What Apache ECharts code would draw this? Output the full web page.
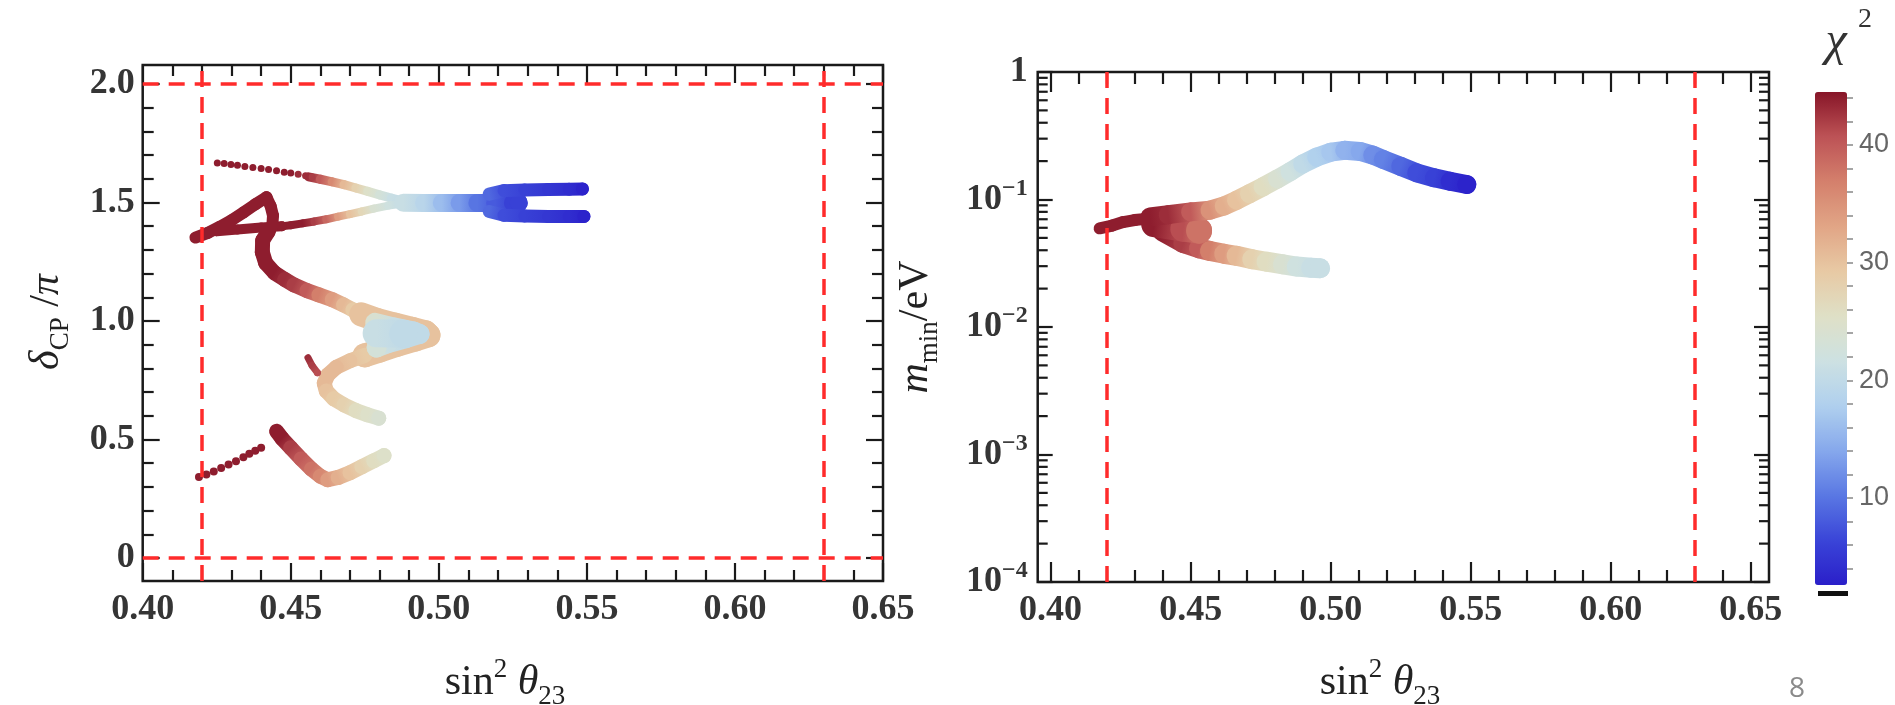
<!DOCTYPE html>
<html><head><meta charset="utf-8">
<script src="https://cdn.jsdelivr.net/npm/echarts@6/dist/echarts.min.js"></script>
<style>html,body{margin:0;padding:0;background:#fff}#c{width:1895px;height:705px}</style>
</head><body><div id="c"></div>
<script>
// ---------------- data ----------------
const CHI_MIN = 2.6, CHI_MAX = 44.5;
const chiPalette = ['#2a1fc9','#3a45d8','#5a78e3','#86a8ec','#b0d0ee','#cde1e2','#dfe0c6','#e8c9a4','#e1a586','#d4806c','#bd5356','#871528'];
const chiTickLabels = [10, 20, 30, 40];
const chiTickValues = [4,6,8,10,12,14,16,18,20,22,24,26,28,30,32,34,36,38,40,42,44];

const sinMajorTicks = [0.40, 0.45, 0.50, 0.55, 0.60, 0.65];
const deltaMajorTicks = [0, 0.5, 1.0, 1.5, 2.0];
const mMajorTicks = [1e-4, 1e-3, 1e-2, 1e-1, 1];
const mMinorTicks = [2e-4,3e-4,4e-4,5e-4,6e-4,7e-4,8e-4,9e-4,2e-3,3e-3,4e-3,5e-3,6e-3,7e-3,8e-3,9e-3,
  2e-2,3e-2,4e-2,5e-2,6e-2,7e-2,8e-2,9e-2,0.2,0.3,0.4,0.5,0.6,0.7,0.8,0.9];

const boundsSin = [0.418, 0.627];   // red dashed bounds
const boundsDelta = [0, 2];

const xRangeL = [0.40, 0.65], yRangeL = [-0.097, 2.08];
const xRangeR = [0.3954, 0.6565], yRangeR = [1e-4, 1];

// left panel: [sin^2 theta23, deltaCP/pi, chi^2]
const L_upperDots = [[0.4252,1.667,44],[0.4275,1.664,44],[0.4298,1.660,44],[0.4320,1.657,44],[0.4345,1.652,44],[0.4372,1.648,44],[0.4400,1.643,44],[0.4425,1.639,44],[0.4452,1.634,44],[0.4478,1.628,44],[0.4500,1.624,44],[0.4525,1.619,43],[0.4550,1.613,43],[0.4572,1.607,42]];
const L_upperBand = [[0.4560,1.608,43],[0.4600,1.598,40],[0.4640,1.587,36],[0.4680,1.575,31],[0.4720,1.561,28],[0.4760,1.547,25],[0.4800,1.532,23],[0.4840,1.518,21],[0.4880,1.506,20],[0.4920,1.500,19]];
const L_rightBranch = [[0.4460,1.398,44],[0.4500,1.404,44],[0.4540,1.412,44],[0.4580,1.420,42],[0.4620,1.429,39],[0.4660,1.440,34],[0.4700,1.451,30],[0.4740,1.462,27],[0.4780,1.474,24],[0.4830,1.487,22],[0.4880,1.496,20]];
const L_aLeft = [[0.4178,1.352,44],[0.4220,1.372,44],[0.4261,1.398,44],[0.4300,1.425,44],[0.4340,1.458,44],[0.4380,1.492,44],[0.4418,1.522,44]];
const L_aRight = [[0.4418,1.522,44],[0.4432,1.485,44],[0.4440,1.445,44],[0.4438,1.405,44],[0.4425,1.370,44]];
const L_aBase = [[0.4250,1.378,44],[0.4320,1.386,44],[0.4400,1.394,44],[0.4470,1.400,44]];
const L_sBand = [[0.4425,1.380,44],[0.4405,1.340,44],[0.4404,1.290,44],[0.4415,1.245,44],[0.4445,1.203,44],[0.4480,1.175,43],[0.4511,1.152,42],[0.4555,1.128,40],[0.4595,1.110,37],[0.4640,1.090,34],[0.4678,1.068,31],[0.4710,1.047,29],[0.4738,1.028,28]];
const L_blobOuter = [[0.4738,1.028,30],[0.4790,1.005,30],[0.4850,0.985,30],[0.4910,0.967,30],[0.4955,0.952,30],[0.4965,0.940,30],[0.4920,0.922,30],[0.4860,0.900,30],[0.4800,0.875,30],[0.4750,0.855,30]];
const L_lowerArm = [[0.4750,0.855,29],[0.4700,0.832,30],[0.4654,0.805,31],[0.4625,0.772,31],[0.4613,0.737,31],[0.4620,0.705,30],[0.4645,0.672,29],[0.4680,0.646,28],[0.4720,0.622,26],[0.4760,0.604,25],[0.4797,0.590,24]];
const L_blobCore = [[0.4785,0.992,24],[0.4850,0.972,21],[0.4915,0.955,20],[0.4935,0.945,20],[0.4890,0.928,20],[0.4825,0.905,21],[0.4790,0.888,23]];
const L_blobFill = [[0.4790,0.948,21],[0.4880,0.946,20]];
const L_stub = [[0.4558,0.845,43],[0.4572,0.812,42],[0.4590,0.782,41]];
const L_mainBand = [[0.4880,1.499,21],[0.4950,1.498,19],[0.5010,1.498,16],[0.5070,1.498,13],[0.5130,1.498,10],[0.5190,1.498,8],[0.5250,1.498,6],[0.5270,1.498,6]];
const L_upperProng = [[0.5170,1.535,9],[0.5220,1.550,7],[0.5290,1.553,6],[0.5370,1.555,5],[0.5440,1.556,4],[0.5485,1.557,3]];
const L_lowerProng = [[0.5170,1.462,9],[0.5220,1.446,7],[0.5290,1.443,6],[0.5370,1.441,5],[0.5440,1.441,4],[0.5490,1.441,3]];
const L_bottomDots = [[0.4190,0.342,44],[0.4215,0.352,44],[0.4240,0.365,44],[0.4265,0.380,44],[0.4290,0.395,44],[0.4315,0.408,44],[0.4340,0.425,44],[0.4360,0.440,44],[0.4380,0.452,44],[0.4400,0.465,44]];
const L_vBand = [[0.4452,0.535,44],[0.4470,0.505,44],[0.4500,0.465,42],[0.4535,0.418,40],[0.4570,0.375,38],[0.4600,0.345,36],[0.4625,0.330,34],[0.4660,0.340,32],[0.4700,0.360,30],[0.4740,0.385,28],[0.4780,0.410,26],[0.4815,0.432,25]];

// right panel: [sin^2 theta23, m_min (eV), chi^2]
const R_tail = [[0.4175,0.0594,44],[0.4220,0.0625,44],[0.4259,0.0665,44],[0.4300,0.0690,44],[0.4340,0.0705,44],[0.4380,0.0700,44]];
const R_lower = [[0.4400,0.0560,44],[0.4474,0.0455,42],[0.4530,0.0415,40],[0.4569,0.0395,37],[0.4620,0.0375,34],[0.4664,0.0362,31],[0.4720,0.0340,28],[0.4771,0.0325,26],[0.4830,0.0310,24],[0.4879,0.0298,22],[0.4930,0.0292,21],[0.4962,0.0289,21]];
const R_body = [[0.4370,0.0640,44],[0.4474,0.0590,41],[0.4530,0.0570,38]];
const R_upper = [[0.4355,0.0730,44],[0.4420,0.0760,43],[0.4500,0.0800,40],[0.4569,0.0824,35],[0.4620,0.0890,32],[0.4664,0.0986,30],[0.4710,0.1110,28],[0.4759,0.1260,26],[0.4810,0.1450,24],[0.4855,0.1650,22],[0.4900,0.1900,20],[0.4950,0.2150,18],[0.5000,0.2350,17],[0.5050,0.2430,15],[0.5105,0.2380,14],[0.5150,0.2230,12],[0.5188,0.2060,11],[0.5250,0.1820,9],[0.5307,0.1620,7],[0.5370,0.1480,6],[0.5426,0.1390,4],[0.5486,0.1310,3]];

// ---------------- layout ----------------
const gridL = {left:142.7, top:65, width:740.3, height:516};
const gridR = {left:1037.7, top:72, width:731.3, height:510};

// ---------------- helpers ----------------
function hexRgb(h){return [parseInt(h.substr(1,2),16),parseInt(h.substr(3,2),16),parseInt(h.substr(5,2),16)];}
const palRgb = chiPalette.map(hexRgb);
function chiColor(v){
  let t=(v-CHI_MIN)/(CHI_MAX-CHI_MIN); t=Math.max(0,Math.min(1,t));
  const f=t*(palRgb.length-1); const i=Math.min(Math.floor(f),palRgb.length-2); const u=f-i;
  const a=palRgb[i], b=palRgb[i+1];
  return 'rgb('+Math.round(a[0]+(b[0]-a[0])*u)+','+Math.round(a[1]+(b[1]-a[1])*u)+','+Math.round(a[2]+(b[2]-a[2])*u)+')';
}
function band(name, pts, width, xi, yi){
  return {type:'custom', name:name, xAxisIndex:xi, yAxisIndex:yi, data:pts, clip:true, silent:true,
    encode:{x:0,y:1},
    renderItem:function(params, api){
      const i=params.dataIndex, p=pts[i], q=pts[i+1];
      const a=api.coord([p[0],p[1]]);
      if(!q){return {type:'circle', shape:{cx:a[0],cy:a[1],r:width/2}, style:{fill:chiColor(p[2])}};}
      const b=api.coord([q[0],q[1]]);
      const c0=chiColor(p[2]), c1=chiColor(q[2]);
      const stroke=(Math.abs(a[0]-b[0])+Math.abs(a[1]-b[1])<0.5)?c0:
        new echarts.graphic.LinearGradient(a[0],a[1],b[0],b[1],[{offset:0,color:c0},{offset:1,color:c1}],true);
      return {type:'line', shape:{x1:a[0],y1:a[1],x2:b[0],y2:b[1]}, style:{stroke:stroke, lineWidth:width, lineCap:'round', fill:null}};
    }};
}
function dots(name, pts, size, xi, yi){
  return {type:'scatter', name:name, xAxisIndex:xi, yAxisIndex:yi, data:pts, symbolSize:size, silent:true, itemStyle:{opacity:1}};
}
function redLines(xi, yi, data){
  return {type:'line', xAxisIndex:xi, yAxisIndex:yi, data:[], silent:true, z:1,
    markLine:{silent:true, symbol:['none','none'], animation:false, label:{show:false},
      lineStyle:{color:'#ff2b2b', width:3.5, type:[16,10], opacity:1}, emphasis:{disabled:true}, data:data}};
}

const SERIF = 'Liberation Serif';
const tickLine = {color:'#1a1a1a', width:2.2};
const labelBase = {show:true, fontFamily:SERIF, fontSize:36, fontWeight:'bold', color:'#353535'};
// linear axes: major ticks at customValues, minor ticks from the axis's own minorTick (splitNumber 5)
function axis(type, grid, pos, range, ticks, len, minorLen, label, extra){
  const a = {type:type, gridIndex:grid, position:pos, min:range[0], max:range[1],
    axisLine:{show:false, onZero:false}, splitLine:{show:false}, splitArea:{show:false},
    axisTick:{show:true, inside:true, length:len, customValues:ticks, lineStyle:tickLine},
    minorTick:{show: minorLen>0, splitNumber:5, length:minorLen, lineStyle:tickLine},
    minorSplitLine:{show:false},
    axisLabel: label ? Object.assign({customValues:ticks}, labelBase, label) : {show:false}};
  if(type==='log') a.logBase = 10;
  return Object.assign(a, extra || {});
}

// ---------------- series ----------------
const series = [];
series.push(redLines(0,0, boundsSin.map(v=>({xAxis:v})).concat(boundsDelta.map(v=>({yAxis:v})))));
series.push(redLines(2,2, boundsSin.map(v=>({xAxis:v}))));
const dataSeriesIdx = [];
function addData(s){dataSeriesIdx.push(series.length); series.push(s);}
addData(dots('upper dots', L_upperDots, 7, 0, 0));
addData(band('upper branch', L_upperBand, 9, 0, 0));
addData(band('right branch', L_rightBranch, 8, 0, 0));
addData(band('A left', L_aLeft, 12, 0, 0));
addData(band('A base', L_aBase, 10, 0, 0));
addData(band('A right', L_aRight, 12, 0, 0));
addData(band('S band', L_sBand, 15, 0, 0));
addData(band('blob outer', L_blobOuter, 24, 0, 0));
addData(band('lower arm', L_lowerArm, 15, 0, 0));
addData(band('blob core', L_blobCore, 20, 0, 0));
addData(band('blob fill', L_blobFill, 28, 0, 0));
addData(band('stub', L_stub, 7, 0, 0));
addData(band('main band', L_mainBand, 18, 0, 0));
addData(band('upper prong', L_upperProng, 13, 0, 0));
addData(band('lower prong', L_lowerProng, 13, 0, 0));
addData(dots('bottom dots', L_bottomDots, 8, 0, 0));
addData(band('V band', L_vBand, 15, 0, 0));
addData(band('tail', R_tail, 12, 2, 2));
addData(band('lower arm R', R_lower, 20, 2, 2));
addData(band('body R', R_body, 26, 2, 2));
addData(band('upper arm R', R_upper, 19, 2, 2));

const fmt2 = v => v.toFixed(2);
const logRich = {b:{fontFamily:SERIF, fontSize:36, fontWeight:'bold', color:'#353535', lineHeight:46, verticalAlign:'middle'},
                 s:{fontFamily:SERIF, fontSize:24, fontWeight:'bold', color:'#353535', verticalAlign:'top', lineHeight:24}};
const titleRich = {n:{fontFamily:SERIF, fontSize:42, fill:'#222', lineHeight:54, verticalAlign:'middle'},
                   p:{fontFamily:SERIF, fontSize:27, fill:'#222', verticalAlign:'top', lineHeight:27},
                   i:{fontFamily:SERIF, fontSize:42, fontStyle:'italic', fill:'#222', lineHeight:54, verticalAlign:'middle'},
                   b:{fontFamily:SERIF, fontSize:27, fill:'#222', verticalAlign:'bottom', lineHeight:27}};
const gridBox = {show:true, borderColor:'#1a1a1a', borderWidth:2.5, backgroundColor:'transparent', containLabel:false, outerBoundsMode:'none'};
const baseGraphic = [
  {type:'text', x:505, y:683, style:{text:'{n|sin}{p|2}{n| }{i|θ}{b|23}', align:'center', verticalAlign:'middle', rich:titleRich}},
  {type:'text', x:1380, y:683, style:{text:'{n|sin}{p|2}{n| }{i|θ}{b|23}', align:'center', verticalAlign:'middle', rich:titleRich}},
  {type:'text', x:47, y:322, rotation:Math.PI/2, style:{text:'{i|δ}{b|CP}{n| /}{i|π}', align:'center', verticalAlign:'middle', rich:titleRich}},
  {type:'text', x:916, y:327, rotation:Math.PI/2, style:{text:'{i|m}{b|min}{n|/eV}', align:'center', verticalAlign:'middle', rich:titleRich}},
  {type:'text', x:1836, y:42, style:{text:'χ', font:'italic 48px "Liberation Serif"', fill:'#333', align:'center', verticalAlign:'middle'}},
  {type:'text', x:1865, y:20, style:{text:'2', font:'28px "Liberation Serif"', fill:'#333', align:'center', verticalAlign:'middle'}},
  {type:'rect', shape:{x:1818, y:591, width:30, height:5}, style:{fill:'#111'}},
  {type:'text', x:1797, y:689, style:{text:'8', font:'28px "Open Sans"', fill:'#8a8a8a', align:'center', verticalAlign:'middle'}}
];
const option = {
  animation:false,
  backgroundColor:'#ffffff',
  grid:[
    Object.assign({}, gridL, gridBox),
    Object.assign({}, gridR, gridBox),
    {left:1815, top:92, width:32, height:493, show:false, containLabel:false, outerBoundsMode:'none'}
  ],
  xAxis:[
    axis('value',0,'bottom', xRangeL, sinMajorTicks, 18, 11, {formatter:fmt2, margin:11}, {interval:0.05}),   // 0
    axis('value',0,'top',    xRangeL, sinMajorTicks, 18, 11, null, {interval:0.05}),                          // 1
    axis('value',1,'bottom', xRangeR, sinMajorTicks, 20, 12, {formatter:fmt2, margin:11}, {splitNumber:5}),   // 2
    axis('value',1,'top',    xRangeR, sinMajorTicks, 20, 12, null, {splitNumber:5}),                          // 3
    {type:'value', gridIndex:2, min:0, max:1, show:false, axisLine:{onZero:false}}                             // 4
  ],
  yAxis:[
    axis('value',0,'left',  yRangeL, deltaMajorTicks, 17, 11, {formatter:v=>v===0?'0':v.toFixed(1), margin:8}, {splitNumber:5}), // 0
    axis('value',0,'right', yRangeL, deltaMajorTicks, 17, 11, null, {splitNumber:5}),     // 1
    axis('log',1,'left',  yRangeR, mMajorTicks, 15, 0, {margin:10,
      formatter:function(v){const e=Math.round(Math.log10(v)); return e===0?'{b|1}':'{b|10}{s|\u2212'+(-e)+'}';}, rich:logRich}), // 2
    axis('log',1,'right', yRangeR, mMajorTicks, 15, 0, null),           // 3
    {type:'value', gridIndex:2, position:'right', min:CHI_MIN, max:CHI_MAX,
      axisLine:{show:false, onZero:false}, splitLine:{show:false},
      axisTick:{show:true, inside:false, length:6, customValues:chiTickValues, lineStyle:{color:'#888', width:1.5}},
      axisLabel:{show:true, customValues:chiTickLabels, fontFamily:'Liberation Sans', fontSize:27, color:'#666', margin:12}} // 4
  ],
  visualMap:{type:'continuous', min:CHI_MIN, max:CHI_MAX, dimension:2, seriesIndex:dataSeriesIdx,
    inRange:{color:chiPalette}, calculable:false, orient:'vertical', left:1815, top:92,
    itemWidth:32, itemHeight:493, padding:0, text:null, showLabel:false, hoverLink:false},
  series:series,
  graphic:baseGraphic
};
const chart = echarts.init(document.getElementById('c'), null, {renderer:'canvas'});
chart.setOption(option);

// log-axis minor ticks (2..9 x 10^k): positions from the log axis scale, drawn on both frame edges
const logTickGraphics = [];
const loR = chart.convertToPixel({gridIndex:1}, [xRangeR[0], yRangeR[0]]);
const hiR = chart.convertToPixel({gridIndex:1}, [xRangeR[1], yRangeR[1]]);
if (loR && hiR) {
  mMinorTicks.forEach(v => {
    const p = chart.convertToPixel({gridIndex:1}, [xRangeR[0], v]);
    if (!p) return;
    logTickGraphics.push({type:'line', silent:true, z:100, shape:{x1:loR[0], y1:p[1], x2:loR[0]+10, y2:p[1]}, style:{stroke:'#1a1a1a', lineWidth:2.2}});
    logTickGraphics.push({type:'line', silent:true, z:100, shape:{x1:hiR[0], y1:p[1], x2:hiR[0]-10, y2:p[1]}, style:{stroke:'#1a1a1a', lineWidth:2.2}});
  });
  chart.setOption({graphic: baseGraphic.concat(logTickGraphics)});
}
</script></body></html>
